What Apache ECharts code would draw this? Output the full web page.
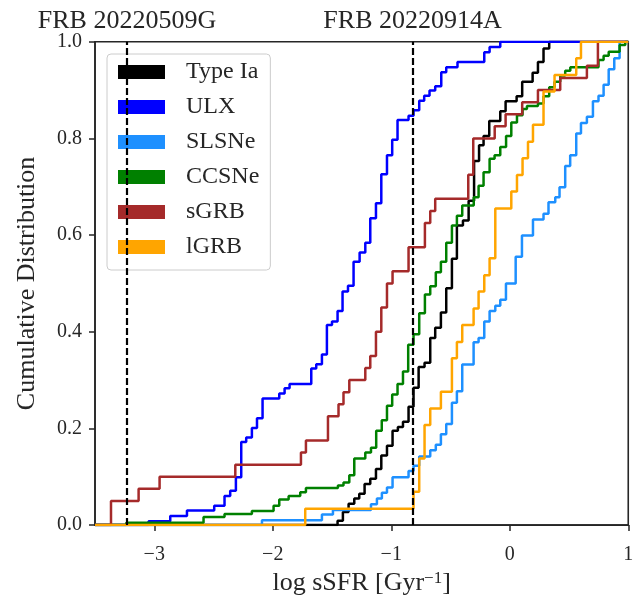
<!DOCTYPE html>
<html>
<head>
<meta charset="utf-8">
<script src="https://cdn.jsdelivr.net/npm/echarts@6/dist/echarts.min.js"></script>
<style>
html, body { margin: 0; padding: 0; background: #fff; }
#main { width: 641px; height: 601px; }
</style>
</head>
<body>
<div id="main"></div>
<script>
// axis range and ticks
const X_MIN = -3.5;
const X_MAX = 1;
const xTicks = [-3, -2, -1, 0, 1];

// FRB host values (dashed lines)
const frbNames = ["FRB 20220509G", "FRB 20220914A"];
const frbX = [-3.225, -0.817];

// cumulative distributions: x = log sSFR where the step happens, y = fraction after the step
const typeIaX = [-1.453, -1.408, -1.360, -1.312, -1.270, -1.225, -1.177, -1.129, -1.084, -1.036, -0.989, -0.944, -0.901, -0.854, -0.812, -0.769, -0.719, -0.671, -0.629, -0.581, -0.536, -0.488, -0.446, -0.395, -0.347, -0.301, -0.259, -0.221, -0.173, -0.080, -0.035, 0.058, 0.105, 0.193, 0.238, 0.285, 0.333];
const typeIaY = [0.009, 0.027, 0.044, 0.055, 0.065, 0.085, 0.096, 0.116, 0.144, 0.164, 0.195, 0.203, 0.214, 0.245, 0.284, 0.327, 0.336, 0.387, 0.408, 0.440, 0.490, 0.551, 0.620, 0.630, 0.671, 0.753, 0.786, 0.805, 0.836, 0.856, 0.877, 0.887, 0.917, 0.936, 0.958, 0.986, 1.0];

const ulxX = [-3.048, -2.865, -2.724, -2.494, -2.407, -2.359, -2.311, -2.266, -2.224, -2.176, -2.133, -2.086, -1.945, -1.900, -1.858, -1.675, -1.633, -1.585, -1.543, -1.500, -1.453, -1.411, -1.365, -1.318, -1.267, -1.219, -1.177, -1.129, -1.084, -1.036, -0.992, -0.947, -0.854, -0.812, -0.764, -0.722, -0.677, -0.629, -0.578, -0.536, -0.441, -0.215, -0.170, -0.080];
const ulxY = [0.008, 0.019, 0.030, 0.040, 0.060, 0.071, 0.099, 0.172, 0.181, 0.201, 0.221, 0.262, 0.272, 0.283, 0.292, 0.324, 0.333, 0.353, 0.414, 0.421, 0.443, 0.483, 0.495, 0.545, 0.564, 0.584, 0.635, 0.666, 0.726, 0.765, 0.797, 0.838, 0.847, 0.858, 0.878, 0.888, 0.899, 0.908, 0.937, 0.947, 0.958, 0.978, 0.989, 1.0];

const slsneX = [-2.091, -1.585, -1.492, -1.171, -1.121, -1.079, -1.036, -0.989, -0.854, -0.812, -0.764, -0.671, -0.624, -0.581, -0.536, -0.488, -0.446, -0.401, -0.305, -0.263, -0.215, -0.170, -0.122, -0.080, -0.032, 0.050, 0.103, 0.196, 0.285, 0.327, 0.384, 0.420, 0.468, 0.510, 0.561, 0.601, 0.651, 0.702, 0.749, 0.792, 0.835, 0.882, 0.927];
const slsneY = [0.010, 0.022, 0.031, 0.043, 0.055, 0.067, 0.078, 0.099, 0.112, 0.123, 0.142, 0.155, 0.166, 0.188, 0.209, 0.253, 0.277, 0.332, 0.378, 0.387, 0.421, 0.443, 0.454, 0.466, 0.500, 0.555, 0.599, 0.632, 0.644, 0.668, 0.678, 0.699, 0.743, 0.765, 0.810, 0.832, 0.845, 0.877, 0.888, 0.911, 0.943, 0.966, 1.0];

const ccsneX = [-3.236, -2.584, -2.407, -2.176, -1.993, -1.945, -1.866, -1.768, -1.720, -1.450, -1.403, -1.354, -1.312, -1.219, -1.171, -1.127, -1.080, -1.036, -0.992, -0.947, -0.901, -0.857, -0.812, -0.764, -0.716, -0.671, -0.624, -0.581, -0.536, -0.488, -0.446, -0.401, -0.304, -0.263, -0.221, -0.170, -0.128, -0.080, -0.031, 0.013, 0.061, 0.108, 0.145, 0.238, 0.285, 0.333, 0.378, 0.426, 0.468, 0.511, 0.749, 0.792, 0.835, 0.927, 0.975];
const ccsneY = [0.005, 0.017, 0.023, 0.029, 0.040, 0.053, 0.060, 0.068, 0.077, 0.082, 0.088, 0.103, 0.138, 0.150, 0.160, 0.195, 0.217, 0.247, 0.270, 0.292, 0.318, 0.373, 0.395, 0.438, 0.477, 0.494, 0.523, 0.545, 0.584, 0.620, 0.640, 0.661, 0.678, 0.702, 0.730, 0.758, 0.765, 0.782, 0.805, 0.833, 0.848, 0.861, 0.867, 0.872, 0.887, 0.906, 0.917, 0.930, 0.940, 0.947, 0.962, 0.971, 0.979, 0.993, 1.0];

const sgrbX = [-3.365, -3.132, -2.955, -2.316, -1.762, -1.720, -1.534, -1.445, -1.403, -1.354, -1.219, -1.177, -1.129, -1.084, -1.036, -0.989, -0.854, -0.716, -0.671, -0.629, -0.350, -0.308, -0.127, -0.035, 0.105, 0.238, 0.426, 0.651, 0.744];
const sgrbY = [0.050, 0.075, 0.100, 0.125, 0.150, 0.175, 0.225, 0.250, 0.275, 0.300, 0.325, 0.350, 0.400, 0.450, 0.500, 0.525, 0.575, 0.625, 0.650, 0.675, 0.725, 0.800, 0.825, 0.850, 0.875, 0.900, 0.925, 0.950, 1.0];

const lgrbX = [-1.726, -0.812, -0.764, -0.719, -0.671, -0.581, -0.488, -0.446, -0.401, -0.305, -0.263, -0.215, -0.170, -0.122, 0.013, 0.061, 0.108, 0.154, 0.196, 0.285, 0.378, 0.561, 0.601];
const lgrbY = [0.034, 0.069, 0.138, 0.207, 0.241, 0.276, 0.345, 0.379, 0.414, 0.448, 0.483, 0.517, 0.552, 0.655, 0.690, 0.724, 0.759, 0.793, 0.828, 0.897, 0.931, 0.966, 1.0];

const seriesNames = ["Type Ia", "ULX", "SLSNe", "CCSNe", "sGRB", "lGRB"];
const seriesColors = ["#000000", "#0000ff", "#1e90ff", "#008000", "#a52a2a", "#ffa500"];
const seriesX = [typeIaX, ulxX, slsneX, ccsneX, sgrbX, lgrbX];
const seriesY = [typeIaY, ulxY, slsneY, ccsneY, sgrbY, lgrbY];

const FONT = "Liberation Serif";
const INK = "#262626";

function stepData(xs, ys) {
  const d = [[X_MIN, 0]];
  xs.forEach((x, i) => d.push([x, ys[i]]));
  d.push([X_MAX, 1]);
  return d;
}

function fmtMinus(v) {
  return v < 0 ? "\u2212" + Math.abs(v) : String(v);
}

var chartDom = document.getElementById("main");
var myChart = echarts.init(chartDom, null, { renderer: "canvas" });

var series = seriesNames.map((name, i) => ({
  name: name,
  type: "line",
  step: "end",
  color: seriesColors[i],
  symbol: "none",
  showSymbol: false,
  lineStyle: { width: 2.5, color: seriesColors[i] },
  emphasis: { disabled: true },
  data: stepData(seriesX[i], seriesY[i]),
}));

// dashed lines for the two FRB hosts
series[series.length - 1].markLine = {
  silent: true,
  symbol: "none",
  animation: false,
  lineStyle: { type: [7, 3], color: "#000", width: 2.2 },
  label: {
    position: "end",
    formatter: "{b}",
    distance: 8,
    fontFamily: FONT,
    fontSize: 26,
    color: INK,
  },
  emphasis: { disabled: true },
  data: frbX.map((x, i) => ({ xAxis: x, name: frbNames[i] })),
};

var option = {
  animation: false,
  textStyle: { fontFamily: FONT },
  grid: {
    left: 95,
    right: 12.75,
    top: 41.7,
    bottom: 72.7,
    show: true,
    borderColor: INK,
    borderWidth: 1.6,
    backgroundColor: "transparent",
  },
  legend: {
    orient: "vertical",
    left: 107,
    top: 54,
    padding: [6, 11, 11, 11],
    icon: "rect",
    itemWidth: 47,
    itemHeight: 14,
    itemGap: 11,
    backgroundColor: "rgba(255,255,255,0.8)",
    borderColor: "#cccccc",
    borderWidth: 1,
    borderRadius: 4,
    textStyle: { fontFamily: FONT, fontSize: 24, color: INK, padding: [0, 0, 0, 16] },
    data: seriesNames,
  },
  xAxis: {
    type: "value",
    min: X_MIN,
    max: X_MAX,
    name: "log sSFR [Gyr{sup|\u22121}]",
    nameLocation: "middle",
    nameGap: 44,
    nameTextStyle: {
      fontFamily: FONT,
      fontSize: 26,
      color: INK,
      rich: { sup: { fontFamily: FONT, fontSize: 17, color: INK, verticalAlign: "top" } },
    },
    splitLine: { show: false },
    axisLine: { show: true, onZero: false, lineStyle: { color: INK, width: 1.6 } },
    axisTick: { show: true, inside: false, length: 6, lineStyle: { color: INK, width: 1.5 }, customValues: xTicks },
    axisLabel: { customValues: xTicks, margin: 20, fontFamily: FONT, fontSize: 20, color: INK, formatter: fmtMinus },
  },
  yAxis: {
    type: "value",
    min: 0,
    max: 1,
    interval: 0.2,
    name: "Cumulative Distribution",
    nameLocation: "middle",
    nameGap: 55,
    nameTextStyle: { fontFamily: FONT, fontSize: 26, color: INK },
    splitLine: { show: false },
    axisLine: { show: true, onZero: false, lineStyle: { color: INK, width: 1.6 } },
    axisTick: { show: true, inside: false, length: 6, lineStyle: { color: INK, width: 1.5 } },
    axisLabel: { margin: 13, fontFamily: FONT, fontSize: 20, color: INK, formatter: (v) => v.toFixed(1) },
  },
  series: series,
};

option && myChart.setOption(option);
</script>
</body>
</html>
